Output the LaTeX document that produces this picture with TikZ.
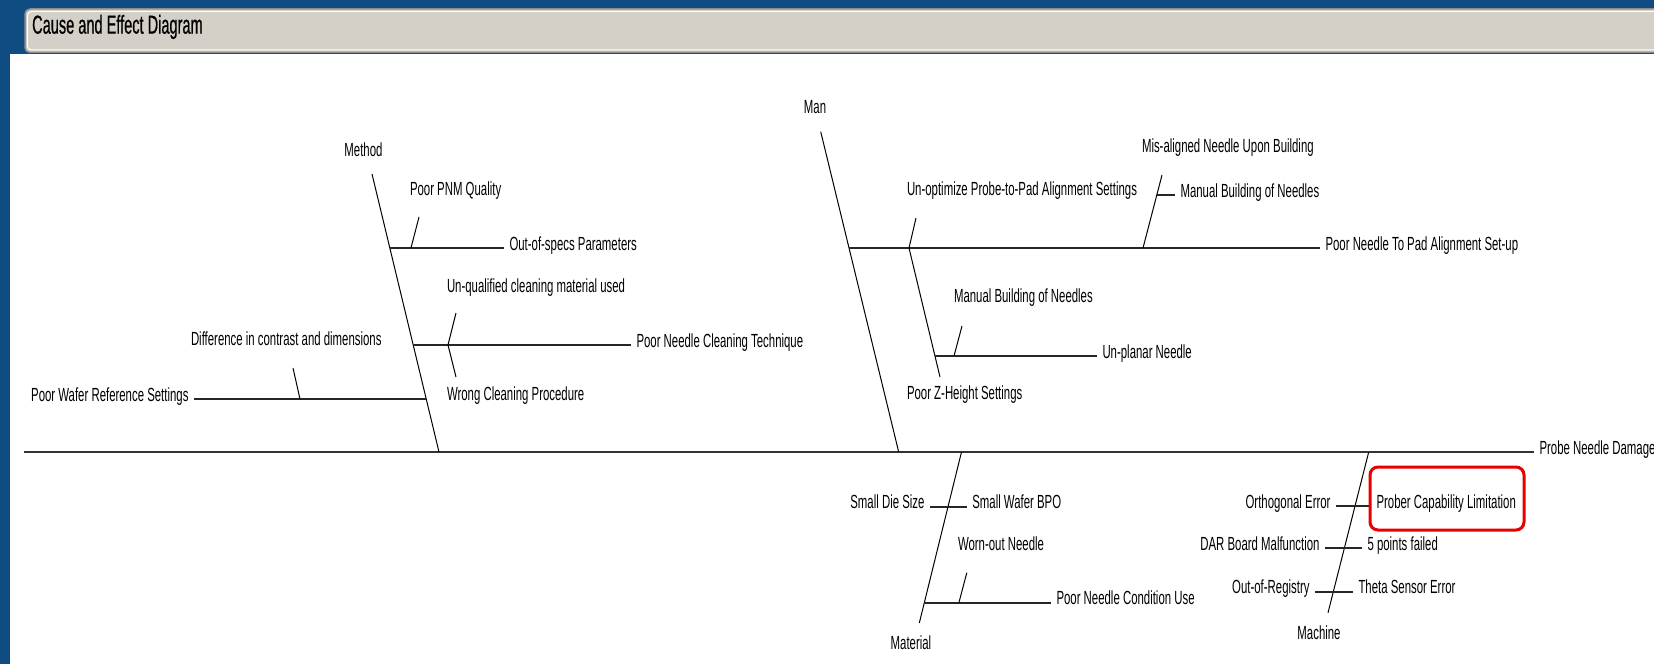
\documentclass[tikz,border=0pt]{standalone}
\usepackage{fontspec}
\usetikzlibrary{fit}
\newfontfamily\lblfont[FakeStretch=0.60]{Liberation Sans}
\newfontfamily\ttlfont[FakeStretch=0.56, FakeBold=0.6]{Liberation Sans}
\definecolor{bgblue}{HTML}{0F4C81}
\definecolor{barfill}{HTML}{D4D0C8}
\definecolor{boxred}{HTML}{E60000}
\tikzset{
  lbl/.style={font=\lblfont\fontsize{19bp}{21bp}\selectfont, inner sep=0pt, outer sep=0pt, text=black},
  endlbl/.style={lbl, outer sep=5.5bp},
  titlelbl/.style={font=\ttlfont\fontsize{26bp}{28bp}\selectfont, inner sep=0pt, text=black},
  bone/.style={line width=1bp, black},
  branch/.style={line width=2bp, black!85},
  tickline/.style={line width=1bp, black},
  spine/.style={line width=2.6bp, black!80},
  redbox/.style={draw=boxred, line width=3bp, rounded corners=8bp, inner sep=0pt}
}
\begin{document}
\begin{tikzpicture}[x=1bp,y=-1bp]
\useasboundingbox (0,0) rectangle (1654,664);
% background
\fill[bgblue] (0,0) rectangle (1654,664);
\fill[white] (10,54) rectangle (1654,664);
% title bar
\draw[fill=barfill, draw=black!45, line width=1.5bp, rounded corners=5bp] (25,9) rectangle (1670,52.5);
\draw[white, line width=1bp, rounded corners=4bp] (27.5,11.5) rectangle (1668,50);
\node[titlelbl, anchor=mid west] (title) at (32,31.5) {Cause and Effect Diagram};

% spine
\coordinate (spineL) at (23.7,452);
\node[endlbl, anchor=mid west] (effect) at (1534,452) {Probe Needle Damage};
\draw[spine] (spineL) -- (effect.mid west);

% ---------- Method ----------
\coordinate (methodTop) at (372,174);
\coordinate (methodFoot) at (439,452);
\node[lbl] (method) at (363.5,150) {Method};
\draw[bone] (methodTop) -- (methodFoot);

\coordinate (m1) at (389.8,248);
\node[endlbl, anchor=mid west] (oos) at (504,248) {Out-of-specs Parameters};
\draw[branch] (m1) -- (oos.mid west);
\node[lbl, anchor=mid west] (pnm) at (410,193) {Poor PNM Quality};
\coordinate (pnmT) at (419,217);
\coordinate (pnmB) at (411,248);
\draw[tickline] (pnmT) -- (pnmB);

\coordinate (m2) at (413.1,345);
\node[endlbl, anchor=mid west] (pnc) at (631,345) {Poor Needle Cleaning Technique};
\draw[branch] (m2) -- (pnc.mid west);
\node[lbl, anchor=mid west] (uq) at (447,290) {Un-qualified cleaning material used};
\node[lbl, anchor=mid west] (wcp) at (447,398) {Wrong Cleaning Procedure};
\coordinate (uqT) at (456,313);
\coordinate (uqB) at (448,345);
\coordinate (wcT) at (456,377);
\draw[tickline] (uqT) -- (uqB) -- (wcT);

\coordinate (m3) at (426.1,399);
\node[endlbl, anchor=mid east] (pwr) at (194,399) {Poor Wafer Reference Settings};
\draw[branch] (pwr.mid east) -- (m3);
\node[lbl, anchor=mid west] (dcd) at (191,343) {Difference in contrast and dimensions};
\coordinate (dcdT) at (293,368);
\coordinate (dcdB) at (300,399);
\draw[tickline] (dcdT) -- (dcdB);

% ---------- Man ----------
\coordinate (manTop) at (820.7,131.7);
\coordinate (manFoot) at (898.7,452);
\node[lbl] (man) at (815,107) {Man};
\draw[bone] (manTop) -- (manFoot);

\coordinate (a1) at (849.1,248);
\node[endlbl, anchor=mid west] (pnp) at (1320,248) {Poor Needle To Pad Alignment Set-up};
\draw[branch] (a1) -- (pnp.mid west);

\node[lbl, anchor=mid west] (uopt) at (907,193) {Un-optimize Probe-to-Pad Alignment Settings};
\node[lbl, anchor=mid west] (zh) at (907,397) {Poor Z-Height Settings};
\coordinate (uoptT) at (916,218);
\coordinate (uoptB) at (909,248);
\coordinate (zhB) at (940,377);
\draw[tickline] (uoptT) -- (uoptB) -- (zhB);

\coordinate (z1) at (934.95,356);
\node[endlbl, anchor=mid west] (upn) at (1097,356) {Un-planar Needle};
\draw[branch] (z1) -- (upn.mid west);
\node[lbl, anchor=mid west] (mbn2) at (954,300) {Manual Building of Needles};
\coordinate (mbn2T) at (962,326);
\coordinate (mbn2B) at (954,356);
\draw[tickline] (mbn2T) -- (mbn2B);

\node[lbl, anchor=mid west] (mis) at (1142,150) {Mis-aligned Needle Upon Building};
\coordinate (misB) at (1143,248);
\coordinate (misT) at (1162,175);
\draw[tickline] (misB) -- (misT);
\coordinate (mis1) at (1156.8,195);
\node[endlbl, anchor=mid west] (mbn1) at (1175,195) {Manual Building of Needles};
\draw[branch] (mis1) -- (mbn1.mid west);

% ---------- Material ----------
\coordinate (matTop) at (961.5,452);
\coordinate (matFoot) at (919.3,623);
\node[lbl] (material) at (911,643) {Material};
\draw[bone] (matTop) -- (matFoot);

\node[endlbl, anchor=mid east] (sds) at (930,506.7) {Small Die Size};
\node[endlbl, anchor=mid west] (swb) at (966.8,506.7) {Small Wafer BPO};
\draw[branch] (sds.mid east) -- (swb.mid west);

\coordinate (t1) at (924.3,602.7);
\node[endlbl, anchor=mid west] (pncu) at (1051,602.7) {Poor Needle Condition Use};
\draw[branch] (t1) -- (pncu.mid west);
\node[lbl, anchor=mid west] (won) at (958,548) {Worn-out Needle};
\coordinate (wonT) at (966.8,572.7);
\coordinate (wonB) at (958.9,602.7);
\draw[tickline] (wonT) -- (wonB);

% ---------- Machine ----------
\coordinate (macTop) at (1368.7,452);
\coordinate (macFoot) at (1328,612.7);
\node[lbl] (machine) at (1319,633) {Machine};
\draw[bone] (macTop) -- (macFoot);

\node[endlbl, anchor=mid east] (oe) at (1336,506) {Orthogonal Error};
\node[endlbl, anchor=mid west] (pcl) at (1371,506) {Prober Capability Limitation};
\draw[branch] (oe.mid east) -- (1368.7,506);

\node[endlbl, anchor=mid east] (dar) at (1325,548.3) {DAR Board Malfunction};
\node[endlbl, anchor=mid west] (fpf) at (1362,548.3) {5 points failed};
\draw[branch] (dar.mid east) -- (fpf.mid west);

\node[endlbl, anchor=mid east] (oor) at (1315,591.7) {Out-of-Registry};
\node[endlbl, anchor=mid west] (tse) at (1353,591.7) {Theta Sensor Error};
\draw[branch] (oor.mid east) -- (tse.mid west);

\coordinate (hlA) at (1370,467);
\coordinate (hlB) at (1524,530);
\node[redbox, fit=(hlA) (hlB)] (hl) {};
\end{tikzpicture}
\end{document}
